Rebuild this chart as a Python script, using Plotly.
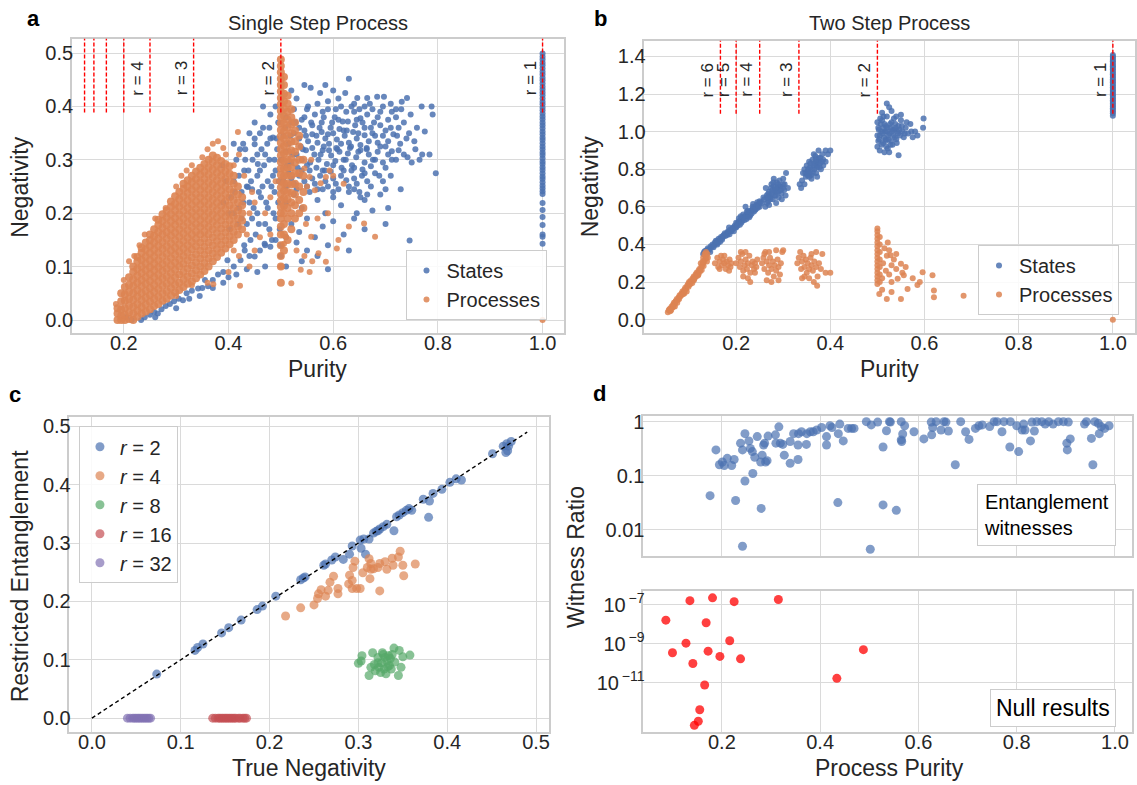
import plotly.graph_objects as go

W, H = 1137, 785
BLUE = "#4C72B0"; ORANGE = "#DD8452"; GREEN = "#55A868"; RED = "#C44E52"; PURPLE = "#8172B3"
TXT = "#262626"; GRID = "#dadada"; FRAME = "#cccccc"
FONT = "Liberation Sans, Arial, sans-serif"
TICK_SIZE = 20
TITLE_SIZE = 23

# ------------------------------------------------------------------ panel a data
A_STATE_EDGE = [(0.205,0.005),(0.215,0.0),(0.233,0.0),(0.24,0.005),(0.25,0.01),(0.258,0.015),(0.265,0.012),
    (0.272,0.02),(0.28,0.026),(0.288,0.03),(0.296,0.035),(0.305,0.04),(0.313,0.037),(0.32,0.05),(0.33,0.055),
    (0.342,0.059),(0.35,0.06),(0.361,0.063),(0.37,0.075),(0.38,0.085),(0.39,0.09),(0.398,0.112),(0.41,0.1),
    (0.423,0.112),(0.431,0.13),(0.44,0.12),(0.45,0.119),(0.46,0.13),(0.469,0.143),(0.48,0.137),(0.49,0.15),
    (0.5,0.14),(0.51,0.155),(0.47,0.1),(0.455,0.09),(0.435,0.095),(0.415,0.085),(0.39,0.07),(0.37,0.06),
    (0.345,0.045),(0.3,0.022),(0.26,0.005),(0.325,0.04),(0.355,0.075),(0.4,0.08)]
A_STATE_MID = [(0.4,0.2),(0.405,0.23),(0.41,0.26),(0.415,0.3),(0.42,0.21),(0.425,0.24),(0.43,0.28),(0.432,0.32),
    (0.435,0.18),(0.44,0.22),(0.443,0.26),(0.446,0.3),(0.45,0.34),(0.452,0.16),(0.455,0.2),(0.458,0.24),
    (0.46,0.28),(0.463,0.32),(0.466,0.36),(0.47,0.18),(0.472,0.22),(0.475,0.26),(0.478,0.3),(0.48,0.34),
    (0.483,0.15),(0.486,0.2),(0.488,0.24),(0.49,0.28),(0.493,0.32),(0.495,0.37),(0.498,0.17),(0.445,0.245),
    (0.465,0.25),(0.475,0.21),(0.485,0.27),(0.455,0.27),(0.435,0.25),(0.42,0.27),(0.41,0.2),(0.49,0.4),
    (0.48,0.385),(0.466,0.4),(0.485,0.342),(0.45,0.329),(0.456,0.292),(0.437,0.249),(0.428,0.33),(0.44,0.35),
    (0.39,0.22),(0.395,0.26),(0.388,0.29),(0.47,0.31),(0.46,0.35),(0.445,0.19),(0.425,0.19),(0.495,0.22),
    (0.402,0.17),(0.412,0.24),(0.418,0.18),(0.428,0.22),(0.438,0.28),(0.448,0.21),(0.458,0.18),(0.462,0.23),
    (0.468,0.29),(0.474,0.33),(0.482,0.25),(0.49,0.19),(0.496,0.26),(0.492,0.34),(0.478,0.17),(0.442,0.15),
    (0.43,0.14),(0.47,0.14),(0.455,0.31),(0.432,0.3),(0.422,0.32),(0.41,0.33),(0.45,0.37),(0.478,0.36),
    (0.488,0.3)]
A_STATE_CLOUD = [(0.545,0.44),(0.557,0.435),(0.585,0.44),(0.63,0.452),(0.623,0.425),(0.646,0.416),(0.665,0.416),
    (0.684,0.418),(0.697,0.418),(0.731,0.409),(0.741,0.416),(0.769,0.4),(0.788,0.4),(0.79,0.385),(0.6,0.43),
    (0.61,0.415),(0.575,0.425),(0.52,0.43),(0.53,0.415),(0.66,0.4),(0.67,0.405),(0.71,0.405),(0.72,0.395),
    (0.59,0.41),(0.64,0.405),
    (0.51,0.38),(0.525,0.395),(0.54,0.375),(0.552,0.4),(0.565,0.385),(0.578,0.37),(0.59,0.395),(0.603,0.38),
    (0.615,0.4),(0.628,0.372),(0.64,0.39),(0.652,0.378),(0.665,0.385),(0.678,0.37),(0.69,0.39),(0.705,0.375),
    (0.72,0.38),(0.735,0.37),(0.748,0.385),(0.535,0.36),(0.56,0.365),(0.595,0.36),(0.62,0.355),(0.66,0.36),
    (0.7,0.355),(0.775,0.353),(0.784,0.31),(0.796,0.275),(0.729,0.245),(0.712,0.316),(0.746,0.149),
    (0.505,0.345),(0.515,0.33),(0.525,0.35),(0.535,0.34),(0.545,0.355),(0.552,0.335),(0.56,0.348),(0.57,0.332),
    (0.578,0.352),(0.585,0.34),(0.592,0.33),(0.6,0.35),(0.607,0.338),(0.615,0.33),(0.622,0.345),(0.63,0.332),
    (0.638,0.352),(0.645,0.34),(0.652,0.328),(0.66,0.346),(0.668,0.335),(0.675,0.35),(0.685,0.332),(0.695,0.345),
    (0.705,0.335),(0.715,0.348),(0.728,0.33),(0.74,0.34),(0.755,0.335),(0.77,0.31),
    (0.5,0.3),(0.51,0.315),(0.52,0.295),(0.53,0.31),(0.54,0.3),(0.548,0.318),(0.556,0.295),(0.564,0.31),
    (0.572,0.3),(0.58,0.318),(0.588,0.292),(0.596,0.308),(0.604,0.298),(0.612,0.315),(0.62,0.3),(0.628,0.312),
    (0.636,0.29),(0.644,0.305),(0.652,0.318),(0.66,0.295),(0.668,0.31),(0.676,0.3),(0.685,0.315),(0.695,0.295),
    (0.705,0.31),(0.72,0.3),(0.735,0.31),(0.75,0.295),
    (0.505,0.26),(0.515,0.275),(0.525,0.255),(0.535,0.27),(0.545,0.26),(0.555,0.28),(0.565,0.255),(0.575,0.27),
    (0.585,0.26),(0.595,0.278),(0.605,0.255),(0.615,0.27),(0.625,0.262),(0.635,0.28),(0.645,0.255),(0.655,0.27),
    (0.665,0.26),(0.68,0.275),(0.695,0.26),(0.71,0.27),(0.6,0.24),(0.64,0.245),
    (0.51,0.22),(0.525,0.235),(0.54,0.21),(0.555,0.24),(0.57,0.225),(0.585,0.2),(0.6,0.23),(0.615,0.215),
    (0.63,0.24),(0.645,0.2),(0.66,0.225),(0.675,0.205),(0.69,0.235),(0.705,0.21),(0.665,0.235),(0.652,0.23),
    (0.58,0.245),
    (0.52,0.18),(0.535,0.165),(0.55,0.19),(0.565,0.155),(0.58,0.175),(0.6,0.185),(0.62,0.16),(0.64,0.19),
    (0.66,0.17),(0.59,0.14),(0.57,0.12),(0.55,0.13),(0.53,0.145),(0.5,0.12),(0.51,0.1),(0.59,0.095),(0.7,0.18),
    (0.54,0.11),(0.63,0.13)]
A_STATE_CORE = [(0.508,0.36),(0.518,0.345),(0.528,0.37),(0.538,0.325),(0.548,0.345),(0.558,0.37),(0.568,0.345),
    (0.574,0.36),(0.582,0.325),(0.59,0.348),(0.598,0.37),(0.606,0.322),(0.612,0.358),(0.618,0.372),(0.626,0.355),
    (0.634,0.325),(0.642,0.365),(0.648,0.35),(0.656,0.37),(0.664,0.322),(0.672,0.36),(0.68,0.345),(0.69,0.365),
    (0.7,0.325),(0.71,0.36),(0.722,0.345),
    (0.512,0.29),(0.522,0.31),(0.532,0.285),(0.542,0.32),(0.55,0.29),(0.56,0.322),(0.568,0.285),(0.576,0.31),
    (0.584,0.28),(0.592,0.318),(0.6,0.29),(0.608,0.32),(0.616,0.285),(0.624,0.3),(0.632,0.322),(0.64,0.285),
    (0.648,0.315),(0.656,0.282),(0.664,0.32),(0.672,0.288),(0.68,0.3),(0.69,0.325),(0.7,0.285),(0.712,0.3),
    (0.725,0.318),(0.742,0.305),
    (0.51,0.25),(0.52,0.265),(0.53,0.245),(0.54,0.28),(0.55,0.25),(0.56,0.265),(0.57,0.245),(0.58,0.28),
    (0.59,0.25),(0.6,0.265),(0.61,0.245),(0.62,0.28),(0.63,0.25),(0.64,0.265),(0.65,0.24),(0.66,0.275),
    (0.672,0.25),(0.688,0.27),(0.7,0.245),
    (0.55,0.395),(0.57,0.405),(0.58,0.39),(0.605,0.395),(0.625,0.39),(0.635,0.4),(0.65,0.395),(0.675,0.395),
    (0.695,0.4),(0.545,0.38),(0.52,0.37),(0.582,0.38),(0.61,0.375),(0.645,0.375),(0.685,0.38),(0.712,0.39),
    (0.73,0.395),(0.76,0.36),(0.725,0.36),(0.745,0.35),(0.757,0.32),(0.765,0.3)]
A_STATE_PURE_Y = [0.143,0.156,0.160,0.178,0.193,0.206,0.219,0.236,0.241,0.247,0.252,0.258,0.264,0.269,0.275,
    0.281,0.286,0.292,0.297,0.303,0.309,0.314,0.320,0.325,0.331,0.337,0.342,0.348,0.353,0.359,0.365,0.370,
    0.376,0.381,0.387,0.393,0.398,0.404,0.409,0.415,0.421,0.426,0.432,0.437,0.443,0.449,0.454,0.460,0.465,
    0.471,0.477,0.482,0.488,0.493,0.499]

A_PROC_BAND = {
    0.188: [0.0,0.012,0.022],
    0.195: [0.0,0.008,0.02,0.035,0.05],
    0.202: [0.0,0.01,0.022,0.036,0.048,0.062],
    0.21: [0.002,0.014,0.027,0.04,0.053,0.066,0.08],
    0.218: [0.0,0.012,0.025,0.038,0.05,0.063,0.076,0.09,0.1],
    0.226: [0.006,0.018,0.03,0.044,0.056,0.07,0.083,0.096,0.11,0.118],
    0.234: [0.012,0.024,0.037,0.05,0.063,0.075,0.088,0.1,0.113,0.126,0.135],
    0.242: [0.016,0.029,0.042,0.055,0.068,0.08,0.093,0.106,0.119,0.132,0.145],
    0.25: [0.02,0.034,0.047,0.06,0.073,0.086,0.099,0.112,0.125,0.138,0.15,0.16],
    0.258: [0.026,0.04,0.053,0.066,0.08,0.093,0.106,0.119,0.132,0.145,0.158,0.17],
    0.266: [0.03,0.044,0.058,0.072,0.085,0.099,0.112,0.126,0.139,0.152,0.165,0.178,0.188],
    0.274: [0.036,0.05,0.064,0.078,0.092,0.105,0.119,0.133,0.146,0.16,0.173,0.186,0.198],
    0.282: [0.04,0.054,0.068,0.082,0.096,0.11,0.124,0.138,0.152,0.165,0.178,0.192,0.205],
    0.29: [0.046,0.06,0.074,0.088,0.102,0.116,0.13,0.144,0.158,0.171,0.185,0.198,0.212,0.222],
    0.298: [0.052,0.066,0.08,0.094,0.108,0.122,0.136,0.15,0.164,0.178,0.191,0.205,0.218,0.232],
    0.306: [0.056,0.07,0.085,0.1,0.114,0.128,0.142,0.156,0.17,0.184,0.198,0.212,0.226,0.24],
    0.314: [0.062,0.076,0.09,0.105,0.12,0.134,0.148,0.162,0.176,0.19,0.204,0.218,0.232,0.246,0.255],
    0.322: [0.068,0.082,0.097,0.112,0.126,0.14,0.154,0.168,0.182,0.196,0.21,0.224,0.238,0.25,0.262],
    0.33: [0.072,0.087,0.102,0.117,0.132,0.146,0.16,0.174,0.188,0.202,0.216,0.23,0.244,0.258,0.27],
    0.338: [0.078,0.093,0.108,0.123,0.138,0.152,0.166,0.18,0.194,0.208,0.222,0.236,0.25,0.264,0.278],
    0.346: [0.085,0.1,0.115,0.13,0.145,0.16,0.174,0.188,0.202,0.216,0.23,0.244,0.258,0.272,0.285],
    0.354: [0.092,0.107,0.122,0.137,0.152,0.166,0.18,0.194,0.208,0.222,0.236,0.25,0.264,0.278,0.292],
    0.362: [0.1,0.115,0.13,0.145,0.16,0.174,0.188,0.202,0.216,0.23,0.244,0.258,0.272,0.286,0.3],
    0.37: [0.11,0.125,0.14,0.155,0.17,0.184,0.198,0.212,0.226,0.24,0.254,0.268,0.282,0.296,0.308],
    0.378: [0.118,0.133,0.148,0.163,0.178,0.192,0.206,0.22,0.234,0.248,0.262,0.276,0.29,0.304],
    0.386: [0.126,0.141,0.156,0.171,0.186,0.2,0.214,0.228,0.242,0.256,0.27,0.284,0.298],
    0.394: [0.134,0.149,0.164,0.179,0.194,0.208,0.222,0.236,0.25,0.264,0.278,0.292],
    0.402: [0.142,0.157,0.172,0.187,0.2,0.215,0.23,0.245,0.26,0.274,0.288],
    0.41: [0.15,0.165,0.18,0.195,0.21,0.225,0.24,0.255,0.27],
    0.418: [0.16,0.175,0.19,0.205,0.22,0.235,0.25],
    0.426: [0.17,0.186,0.2,0.215,0.23],
}
A_PROC_SCATTER = [(0.21,0.11),(0.23,0.14),(0.24,0.16),(0.26,0.19),(0.28,0.21),(0.3,0.25),(0.31,0.27),(0.33,0.29),
    (0.35,0.305),(0.36,0.32),(0.37,0.33),(0.38,0.335),(0.39,0.322),(0.395,0.31),(0.41,0.29),(0.42,0.31),
    (0.418,0.352),(0.32,0.28),(0.185,0.03),(0.2,0.075),(0.22,0.12),
    (0.36,0.07),(0.371,0.067),(0.4,0.09),(0.422,0.064),(0.42,0.12),(0.44,0.1),(0.45,0.13),(0.46,0.155),
    (0.48,0.16),(0.47,0.2),(0.44,0.2),(0.45,0.22),(0.48,0.23),(0.49,0.26),(0.33,0.065),(0.3,0.045),
    (0.435,0.16),(0.445,0.24),(0.43,0.27),(0.41,0.13),
    (0.52,0.069),(0.538,0.094),(0.555,0.09),(0.572,0.125),(0.586,0.109),(0.607,0.134),(0.659,0.181),
    (0.68,0.156),(0.558,0.156),(0.548,0.18),(0.59,0.2),(0.565,0.243),(0.586,0.268),(0.576,0.256),(0.593,0.28),
    (0.555,0.268),(0.545,0.284),(0.558,0.3),(0.5,0.1),(0.506,0.143),(0.51,0.156),(0.6,0.27),(0.62,0.255),
    (0.61,0.15),(0.63,0.175),(0.545,0.12),(0.56,0.11),(0.57,0.19),(0.55,0.25),(0.53,0.13)]
A_PROC_SPIKE = {
    0.5: [0.07,0.1,0.12,0.14,0.16,0.175,0.19,0.2,0.212,0.224,0.236,0.248,0.26,0.272,0.284,0.296,0.308,0.32,
          0.332,0.344,0.356,0.368,0.38,0.392,0.404,0.416,0.428,0.44,0.452,0.464,0.476,0.488],
    0.506: [0.13,0.16,0.18,0.2,0.214,0.228,0.242,0.256,0.27,0.284,0.298,0.312,0.326,0.34,0.354,0.368,0.382,
            0.396,0.41,0.424,0.44,0.455],
    0.513: [0.15,0.19,0.21,0.226,0.24,0.255,0.27,0.285,0.3,0.315,0.33,0.345,0.36,0.375,0.39,0.405,0.42],
    0.52: [0.17,0.2,0.22,0.238,0.254,0.27,0.286,0.302,0.318,0.334,0.35,0.366,0.38,0.395],
    0.527: [0.19,0.215,0.235,0.255,0.275,0.295,0.315,0.335,0.355,0.37],
    0.535: [0.2,0.225,0.25,0.275,0.3,0.325,0.345],
    0.543: [0.21,0.24,0.27,0.3],
}
A_PROC_PURE = [(1.0, 0.0)]
A_RANKS = [8, 7, 6, 5, 4, 3, 2, 1]
A_RANK_LABELS = [4, 3, 2, 1]

# ------------------------------------------------------------------ panel b data
B_STATE_CHAIN = [(0.13,0.35),(0.134,0.365),(0.137,0.37),(0.14,0.38),(0.143,0.375),(0.146,0.39),(0.15,0.4),
    (0.152,0.385),(0.155,0.41),(0.158,0.405),(0.16,0.42),(0.163,0.43),(0.166,0.415),(0.168,0.44),(0.171,0.435),
    (0.174,0.45),(0.177,0.445),(0.18,0.46),(0.183,0.47),(0.186,0.455),(0.188,0.48),(0.191,0.475),(0.194,0.49),
    (0.197,0.5),(0.2,0.49),(0.202,0.51),(0.205,0.52),(0.208,0.505),(0.21,0.53),(0.213,0.525),(0.216,0.54),
    (0.219,0.55),(0.222,0.535),(0.224,0.56),(0.227,0.57),(0.23,0.555),(0.232,0.58),(0.235,0.59),(0.238,0.575),
    (0.24,0.6),(0.243,0.61),(0.246,0.595),(0.248,0.615),(0.25,0.6),(0.17,0.425),(0.2,0.515),(0.215,0.56),
    (0.235,0.6),(0.225,0.58),(0.185,0.49),(0.16,0.4),(0.145,0.36),(0.245,0.625),(0.22,0.6),(0.21,0.55),
    (0.195,0.47),(0.206,0.54),(0.228,0.545),(0.241,0.585),(0.252,0.625),
    (0.132,0.36),(0.138,0.36),(0.142,0.37),(0.148,0.385),(0.153,0.395),(0.157,0.42),(0.162,0.41),(0.167,0.43),
    (0.172,0.445),(0.176,0.46),(0.181,0.45),(0.184,0.465),(0.189,0.47),(0.193,0.485),(0.198,0.49),(0.203,0.5),
    (0.207,0.525),(0.211,0.515),(0.214,0.545),(0.218,0.53),(0.221,0.555),(0.226,0.55),(0.229,0.575),
    (0.233,0.565),(0.237,0.585),(0.242,0.59),(0.247,0.605),(0.25,0.63),(0.223,0.575),(0.236,0.615)]
B_STATE_C2 = [(0.255,0.62),(0.26,0.64),(0.262,0.6),(0.265,0.66),(0.268,0.63),(0.27,0.68),(0.272,0.65),
    (0.274,0.7),(0.276,0.67),(0.278,0.64),(0.28,0.71),(0.282,0.69),(0.284,0.66),(0.286,0.73),(0.288,0.7),
    (0.29,0.68),(0.292,0.74),(0.294,0.71),(0.296,0.67),(0.3,0.72),(0.302,0.69),(0.305,0.66),(0.31,0.7),
    (0.3,0.75),(0.285,0.62),(0.27,0.61),(0.297,0.64),(0.28,0.75),(0.263,0.7),(0.275,0.72),(0.29,0.65),
    (0.268,0.67),(0.283,0.68),(0.306,0.78),
    (0.258,0.65),(0.266,0.62),(0.271,0.66),(0.277,0.69),(0.281,0.66),(0.287,0.68),(0.291,0.71),(0.295,0.69),
    (0.299,0.7),(0.303,0.72),(0.273,0.64),(0.279,0.73),(0.289,0.72),(0.284,0.7),(0.267,0.65)]
B_STATE_C3 = [(0.335,0.72),(0.34,0.74),(0.342,0.78),(0.345,0.8),(0.348,0.76),(0.35,0.82),(0.352,0.79),
    (0.355,0.84),(0.357,0.81),(0.36,0.77),(0.362,0.85),(0.364,0.82),(0.366,0.8),(0.368,0.87),(0.37,0.84),
    (0.372,0.81),(0.375,0.86),(0.378,0.83),(0.38,0.8),(0.383,0.88),(0.385,0.85),(0.39,0.9),(0.395,0.88),
    (0.4,0.9),(0.338,0.7),(0.345,0.72),(0.36,0.75),(0.37,0.78),(0.355,0.76),(0.365,0.88),(0.375,0.9),
    (0.385,0.82),(0.39,0.84),(0.372,0.76),
    (0.347,0.78),(0.353,0.8),(0.358,0.83),(0.361,0.8),(0.367,0.83),(0.371,0.82),(0.374,0.84),(0.379,0.86),
    (0.363,0.78),(0.356,0.78),(0.369,0.85),(0.382,0.84),(0.351,0.77),(0.377,0.81)]
B_STATE_C4 = [(0.5,0.92),(0.502,0.95),(0.505,0.98),(0.503,1.01),(0.507,1.04),(0.51,1.06),(0.512,0.94),
    (0.514,0.97),(0.516,1.0),(0.518,1.03),(0.52,1.08),(0.522,0.91),(0.524,0.96),(0.526,0.99),(0.528,1.02),
    (0.53,1.05),(0.532,0.93),(0.534,0.98),(0.536,1.01),(0.538,1.04),(0.54,0.96),(0.542,1.0),(0.545,1.03),
    (0.548,0.98),(0.55,1.06),(0.553,1.0),(0.556,0.97),(0.56,1.02),(0.565,0.99),(0.57,1.04),(0.575,0.97),
    (0.58,1.0),(0.597,1.02),(0.598,1.07),(0.52,1.15),(0.525,1.13),(0.53,1.11),(0.51,1.1),(0.515,0.89),
    (0.525,0.89),(0.545,0.875),(0.505,0.9),(0.55,1.09),(0.54,1.08),(0.535,1.07),(0.508,1.0),(0.52,1.0),
    (0.5,1.05),(0.5,0.98),(0.513,1.02),(0.531,1.0),(0.518,0.96),
    (0.504,0.96),(0.509,0.93),(0.511,0.99),(0.515,1.04),(0.517,0.95),(0.521,1.02),(0.523,0.98),(0.527,1.04),
    (0.529,0.95),(0.533,1.01),(0.537,0.97),(0.539,1.02),(0.544,0.99),(0.547,1.01),(0.552,1.03),(0.506,1.07),
    (0.513,1.08),(0.519,0.92),(0.528,0.93),(0.541,0.94),(0.558,0.99),(0.562,1.05),(0.572,1.0),(0.585,0.98),
    (0.502,1.02)]
B_STATE_PURE_Y = [1.085,1.098,1.107,1.116,1.124,1.133,1.141,1.15,1.159,1.167,1.176,1.184,1.193,1.202,1.21,
    1.219,1.227,1.236,1.245,1.253,1.262,1.27,1.279,1.288,1.296,1.305,1.313,1.322,1.331,1.339,1.348,1.356,
    1.365,1.374,1.382,1.391,1.399,1.408]
B_PROC_CHAIN = [(0.055,0.04),(0.057,0.05),(0.06,0.045),(0.06,0.06),(0.063,0.07),(0.065,0.065),(0.066,0.08),
    (0.068,0.09),(0.07,0.085),(0.072,0.1),(0.074,0.11),(0.076,0.105),(0.078,0.12),(0.08,0.13),(0.082,0.125),
    (0.084,0.14),(0.086,0.15),(0.088,0.145),(0.09,0.16),(0.092,0.17),(0.094,0.165),(0.096,0.18),(0.098,0.19),
    (0.1,0.185),(0.102,0.2),(0.104,0.21),(0.106,0.205),(0.108,0.22),(0.11,0.23),(0.112,0.225),(0.114,0.24),
    (0.116,0.25),(0.118,0.245),(0.12,0.26),(0.122,0.27),(0.124,0.265),(0.126,0.28),(0.128,0.29),(0.13,0.3),
    (0.132,0.31),(0.134,0.32),(0.135,0.34),(0.136,0.36),(0.13,0.33),(0.125,0.3),(0.133,0.35),(0.138,0.31),
    (0.14,0.33),(0.11,0.21),(0.09,0.14),(0.07,0.07),(0.1,0.2),(0.12,0.24),
    (0.058,0.055),(0.062,0.05),(0.067,0.07),(0.071,0.095),(0.075,0.09),(0.079,0.11),(0.083,0.13),(0.087,0.135),
    (0.091,0.155),(0.095,0.15),(0.099,0.175),(0.103,0.19),(0.107,0.195),(0.111,0.215),(0.115,0.23),
    (0.119,0.235),(0.123,0.255),(0.127,0.265),(0.131,0.285),(0.137,0.33),(0.139,0.35),(0.129,0.31)]
B_PROC_CLUSTERS = [(0.155,0.3),(0.16,0.33),(0.162,0.28),(0.165,0.31),(0.168,0.34),(0.17,0.29),(0.172,0.32),
    (0.175,0.3),(0.178,0.27),(0.18,0.31),(0.183,0.29),(0.186,0.32),(0.188,0.28),(0.19,0.3),(0.165,0.27),
    (0.175,0.34),(0.185,0.26),
    (0.2,0.3),(0.205,0.33),(0.208,0.28),(0.21,0.31),(0.213,0.35),(0.215,0.26),(0.218,0.29),(0.22,0.32),
    (0.223,0.27),(0.225,0.3),(0.228,0.34),(0.23,0.25),(0.233,0.29),(0.235,0.31),(0.238,0.27),(0.24,0.3),
    (0.243,0.28),(0.245,0.32),(0.225,0.22),(0.23,0.2),(0.215,0.23),(0.24,0.25),(0.21,0.36),(0.22,0.36),
    (0.255,0.3),(0.258,0.33),(0.26,0.27),(0.262,0.36),(0.265,0.31),(0.268,0.25),(0.27,0.29),(0.272,0.33),
    (0.275,0.27),(0.278,0.31),(0.28,0.23),(0.282,0.29),(0.285,0.26),(0.288,0.32),(0.29,0.28),(0.293,0.24),
    (0.295,0.3),(0.298,0.36),(0.3,0.37),(0.265,0.21),(0.275,0.2),(0.29,0.21),(0.285,0.37),(0.26,0.35),(0.27,0.36),
    (0.33,0.3),(0.333,0.33),(0.336,0.36),(0.338,0.27),(0.34,0.31),(0.343,0.34),(0.345,0.28),(0.348,0.32),
    (0.35,0.25),(0.352,0.3),(0.355,0.27),(0.358,0.33),(0.36,0.29),(0.363,0.26),(0.366,0.31),(0.37,0.28),
    (0.373,0.23),(0.376,0.3),(0.38,0.27),(0.383,0.35),(0.37,0.36),(0.39,0.25),(0.4,0.25),(0.34,0.22),
    (0.355,0.22),(0.365,0.2),(0.372,0.18),(0.345,0.23),(0.36,0.35)]
B_PROC_SPIKE = {
    0.5: [0.19,0.21,0.23,0.25,0.27,0.29,0.31,0.33,0.35,0.37,0.39,0.41,0.43,0.45,0.47,0.485],
    0.505: [0.2,0.24,0.28,0.32,0.36,0.4,0.44],
}
B_PROC_SCATTER = [(0.51,0.22),(0.512,0.3),(0.515,0.38),(0.518,0.26),(0.52,0.34),(0.522,0.41),(0.525,0.24),
    (0.528,0.343),(0.53,0.29),(0.53,0.2),(0.535,0.32),(0.54,0.27),(0.543,0.218),(0.55,0.298),(0.553,0.25),
    (0.556,0.237),(0.56,0.28),(0.564,0.164),(0.585,0.185),(0.596,0.253),(0.617,0.237),(0.62,0.156),(0.62,0.12),
    (0.683,0.127),(0.504,0.137),(0.52,0.11),(0.53,0.148),(0.55,0.11),(0.51,0.16),(0.575,0.22),(0.59,0.2),
    (0.54,0.35),(0.525,0.37)]
B_PROC_PURE = [(1.0, 0.0)]
B_RANKS = [6, 5, 4, 3, 2, 1]

# ------------------------------------------------------------------ panel c data
C_R2 = [(0.073,0.0755),(0.116,0.116),(0.119,0.121),(0.125,0.127),(0.146,0.146),(0.154,0.155),(0.168,0.168),
    (0.186,0.186),(0.192,0.192),(0.207,0.209),(0.235,0.237),(0.238,0.24),(0.24,0.242),(0.261,0.262),
    (0.263,0.264),(0.27,0.271),(0.274,0.276),(0.283,0.272),(0.29,0.281),(0.293,0.295),(0.302,0.305),
    (0.303,0.291),(0.308,0.281),(0.306,0.307),(0.312,0.307),(0.317,0.317),(0.32,0.32),(0.322,0.321),
    (0.324,0.324),(0.328,0.328),(0.332,0.332),(0.34,0.321),(0.343,0.345),(0.346,0.348),(0.35,0.352),
    (0.354,0.356),(0.36,0.356),(0.357,0.359),(0.373,0.375),(0.38,0.372),(0.379,0.344),(0.384,0.385),
    (0.394,0.392),(0.403,0.404),(0.41,0.41),(0.416,0.408),(0.451,0.453),(0.463,0.466),(0.467,0.47),
    (0.472,0.474),(0.466,0.455),(0.468,0.458),(0.469,0.466)]
C_R4 = [(0.218,0.175),(0.235,0.189),(0.25,0.194),(0.254,0.205),(0.255,0.213),(0.258,0.22),(0.263,0.209),
    (0.266,0.219),(0.268,0.233),(0.272,0.243),(0.277,0.222),(0.277,0.213),(0.289,0.23),(0.29,0.245),
    (0.293,0.236),(0.294,0.258),(0.296,0.269),(0.293,0.222),(0.298,0.222),(0.302,0.222),(0.305,0.249),
    (0.31,0.258),(0.312,0.273),(0.313,0.239),(0.314,0.255),(0.317,0.256),(0.324,0.218),(0.324,0.265),
    (0.33,0.268),(0.332,0.255),(0.338,0.274),(0.339,0.262),(0.345,0.276),(0.347,0.286),(0.35,0.262),
    (0.351,0.244),(0.364,0.264),(0.314,0.265),(0.322,0.258)]
C_R8 = [(0.3,0.094),(0.304,0.107),(0.303,0.098),(0.312,0.073),(0.316,0.112),(0.318,0.092),(0.322,0.104),
    (0.323,0.087),(0.325,0.078),(0.326,0.095),(0.328,0.109),(0.329,0.084),(0.331,0.076),(0.332,0.098),
    (0.334,0.107),(0.335,0.09),(0.336,0.102),(0.338,0.109),(0.34,0.12),(0.341,0.096),(0.345,0.073),
    (0.346,0.116),(0.348,0.087),(0.35,0.105),(0.358,0.108),(0.314,0.087),(0.319,0.081),(0.327,0.112),
    (0.33,0.104),(0.333,0.088),(0.337,0.084),(0.322,0.095)]
C_R16_X = [0.136,0.139,0.142,0.144,0.146,0.148,0.15,0.152,0.154,0.156,0.158,0.16,0.162,0.165,0.167,0.17,0.172,0.174]
C_R32_X = [0.04,0.043,0.046,0.048,0.05,0.052,0.054,0.056,0.058,0.06,0.062,0.064,0.066]
C_DIAG = [0.0, 0.49]

# ------------------------------------------------------------------ panel d data
D_WITNESS = [(0.176,0.043),(0.188,0.3),(0.195,0.16),(0.201,0.18),(0.211,0.21),(0.205,0.155),(0.22,0.155),
    (0.225,0.2),(0.228,0.035),(0.238,0.4),(0.242,0.005),(0.242,0.3),(0.247,0.6),(0.247,0.08),(0.255,0.44),
    (0.258,0.32),(0.263,0.11),(0.262,0.28),(0.267,0.22),(0.272,0.53),(0.28,0.025),(0.279,0.18),(0.282,0.24),
    (0.285,0.37),(0.287,0.4),(0.289,0.18),(0.292,0.19),(0.294,0.54),(0.309,0.57),(0.31,0.4),(0.316,0.8),
    (0.319,0.4),(0.324,0.38),(0.327,0.24),(0.339,0.17),(0.339,0.43),(0.346,0.6),(0.355,0.2),(0.355,0.37),
    (0.356,0.6),(0.362,0.65),(0.372,0.38),(0.373,0.6),(0.38,0.65),(0.386,0.65),(0.393,0.7),(0.403,0.78),
    (0.413,0.37),(0.413,0.53),(0.42,0.84),(0.424,0.78),(0.436,0.032),(0.44,0.9),(0.437,0.6),(0.447,0.44),
    (0.457,0.75),(0.464,0.75),(0.469,0.75),(0.494,1.0),(0.502,0.0044),(0.504,0.87),(0.517,0.98),(0.528,0.34),
    (0.528,0.029),(0.535,0.68),(0.541,1.0),(0.543,0.98),(0.555,0.023),(0.565,1.0),(0.568,0.59),(0.565,0.46),
    (0.566,0.43),(0.572,0.84),(0.591,0.65),(0.611,0.48),(0.626,0.98),(0.629,0.78),(0.627,0.57),(0.636,1.0),
    (0.646,0.7),(0.652,1.0),(0.656,0.98),(0.661,0.67),(0.675,0.16),(0.686,1.0),(0.696,0.65),(0.703,0.47),
    (0.716,0.75),(0.723,0.84),(0.73,0.87),(0.745,0.81),(0.754,1.0),(0.76,1.0),(0.77,0.65),(0.774,1.0),
    (0.786,0.34),(0.787,1.0),(0.8,0.84),(0.804,0.28),(0.811,0.7),(0.814,0.9),(0.817,0.7),(0.828,0.44),
    (0.831,0.98),(0.836,0.67),(0.841,1.0),(0.851,1.0),(0.858,0.9),(0.865,1.0),(0.874,0.9),(0.885,1.0),
    (0.895,1.0),(0.902,0.4),(0.903,0.3),(0.909,0.48),(0.905,0.98),(0.938,0.9),(0.942,1.0),(0.952,0.49),
    (0.955,0.16),(0.959,1.0),(0.966,0.93),(0.968,0.6),(0.972,0.81),(0.979,0.75),(0.988,0.84)]
D_NULL = [(0.086,1.58e-8),(0.0995,3.4e-10),(0.127,1.05e-9),(0.135,1.58e-7),(0.141,9.5e-11),(0.144,6.5e-14),
    (0.152,1.05e-13),(0.155,4.1e-13),(0.165,7.6e-12),(0.168,1.17e-8),(0.172,4.1e-10),(0.181,2.2e-7),
    (0.196,2.2e-10),(0.216,1.4e-9),(0.225,1.4e-7),(0.238,1.66e-10),(0.315,1.8e-7),(0.434,1.66e-11),
    (0.488,4.9e-10)]

# ------------------------------------------------------------------ helpers
def split(pairs):
    return [p[0] for p in pairs], [p[1] for p in pairs]

def columns(cols):
    xs, ys = [], []
    for x, col in cols.items():
        xs += [x] * len(col)
        ys += col
    return xs, ys

def gather(parts):
    xs, ys = [], []
    for part in parts:
        x, y = columns(part) if isinstance(part, dict) else split(part)
        xs += x; ys += y
    return xs, ys

def dots(x, y, color, size, xa, ya, name=None, legend=None, opacity=0.85):
    return go.Scatter(x=x, y=y, mode="markers", name=name, legend=legend, showlegend=name is not None,
                      marker=dict(color=color, size=size, opacity=opacity, line=dict(width=0)),
                      xaxis=xa, yaxis=ya)

fig = go.Figure()

# panel a
x, y = gather([A_STATE_EDGE, A_STATE_MID, A_STATE_CLOUD, A_STATE_CORE])
x += [1.0] * len(A_STATE_PURE_Y); y += A_STATE_PURE_Y
fig.add_trace(dots(x, y, BLUE, 6, "x", "y", "States", "legend"))
x, y = gather([A_PROC_SCATTER, A_PROC_PURE])
fig.add_trace(dots(x, y, ORANGE, 6, "x", "y", "Processes", "legend"))
x, y = gather([A_PROC_BAND, A_PROC_SPIKE])
fig.add_trace(dots(x, y, ORANGE, 8, "x", "y", opacity=0.9))

# panel b
x, y = gather([B_STATE_CHAIN, B_STATE_C2, B_STATE_C3, B_STATE_C4])
x += [1.0] * len(B_STATE_PURE_Y); y += B_STATE_PURE_Y
fig.add_trace(dots(x, y, BLUE, 6, "x2", "y2", "States", "legend2"))
x, y = gather([B_PROC_CHAIN, B_PROC_CLUSTERS, B_PROC_SCATTER, B_PROC_PURE, B_PROC_SPIKE])
fig.add_trace(dots(x, y, ORANGE, 6, "x2", "y2", "Processes", "legend2"))

# panel c
c_sets = [("<i>r</i> = 2", C_R2, BLUE), ("<i>r</i> = 4", C_R4, ORANGE), ("<i>r</i> = 8", C_R8, GREEN),
          ("<i>r</i> = 16", [(v, 0.0) for v in C_R16_X], RED), ("<i>r</i> = 32", [(v, 0.0) for v in C_R32_X], PURPLE)]
for name, pts, col in c_sets:
    x, y = split(pts)
    fig.add_trace(dots(x, y, col, 9, "x3", "y3", name, "legend3", opacity=0.7))
fig.add_trace(go.Scatter(x=C_DIAG, y=C_DIAG, mode="lines", showlegend=False,
    line=dict(color="black", width=1.4, dash="4px,3px"), xaxis="x3", yaxis="y3"))

# panel d
x, y = split(D_WITNESS)
fig.add_trace(dots(x, y, BLUE, 9, "x4", "y4", opacity=0.7))
x, y = split(D_NULL)
fig.add_trace(dots(x, y, "red", 9, "x5", "y5", opacity=0.75))

# ------------------------------------------------------------------ layout
def axis(dom, rng, letter, **kw):
    d = dict(domain=dom, range=rng, showgrid=True, gridcolor=GRID, gridwidth=1.3, showline=True,
             linecolor=FRAME, linewidth=1.5, mirror=True, zeroline=False, ticks="", ticklen=0,
             ticklabelstandoff=-9 if letter == "x" else -7,
             tickfont=dict(size=TICK_SIZE, color=TXT, family=FONT))
    d.update(kw)
    return d

def ydom(top, bottom):
    return [1 - bottom / H, 1 - top / H]

def xdom(left, right):
    return [left / W, right / W]

LEG = dict(bordercolor=FRAME, borderwidth=1, bgcolor="rgba(255,255,255,0.85)",
           font=dict(size=20, color=TXT, family=FONT))
layout = dict(
    width=W, height=H, margin=dict(l=0, r=0, t=0, b=0), autosize=False,
    paper_bgcolor="white", plot_bgcolor="white", font=dict(family=FONT, color=TXT),
    xaxis=axis(xdom(72, 564), [0.1009, 1.040], "x", anchor="y", tickvals=[0.2, 0.4, 0.6, 0.8, 1.0], tickformat=".1f"),
    yaxis=axis(ydom(34, 330.4), [-0.0249, 0.5268], "y", anchor="x", tickvals=[0, 0.1, 0.2, 0.3, 0.4, 0.5], tickformat=".1f"),
    xaxis2=axis(xdom(645, 1136), [0.0053, 1.047], "x", anchor="y2", tickvals=[0.2, 0.4, 0.6, 0.8, 1.0], tickformat=".1f"),
    yaxis2=axis(ydom(36, 330), [-0.070, 1.483], "y", anchor="x2", tickvals=[0, 0.2, 0.4, 0.6, 0.8, 1.0, 1.2, 1.4], tickformat=".1f"),
    xaxis3=axis(xdom(69.5, 549), [-0.0253, 0.514], "x", anchor="y3", tickvals=[0, 0.1, 0.2, 0.3, 0.4, 0.5], tickformat=".1f"),
    yaxis3=axis(ydom(415, 731.7), [-0.0238, 0.5153], "y", anchor="x3", tickvals=[0, 0.1, 0.2, 0.3, 0.4, 0.5], tickformat=".1f"),
    xaxis4=axis(xdom(643.8, 1132.7), [0.04, 1.034], "x", anchor="y4", tickvals=[0.2, 0.4, 0.6, 0.8, 1.0], showticklabels=False),
    yaxis4=axis(ydom(413.3, 555), [-2.49, 0.11], "y", anchor="x4", type="log", tickvals=[0.01, 0.1, 1], ticktext=["0.01", "0.1", "1"]),
    xaxis5=axis(xdom(643.8, 1132.7), [0.04, 1.034], "x", anchor="y5", tickvals=[0.2, 0.4, 0.6, 0.8, 1.0], tickformat=".1f"),
    yaxis5=axis(ydom(590, 731.7), [-13.53, -6.32], "y", anchor="x5", type="log", tickvals=[1e-7, 1e-9, 1e-11],
                ticktext=["10<sup>\u2009\u22127</sup>", "10<sup>\u2009\u22129</sup>", "10<sup>\u2009\u221211</sup>"]),
    legend=dict(x=547 / W, xanchor="right", y=1 - 317 / H, yanchor="bottom", **LEG),
    legend2=dict(x=1120 / W, xanchor="right", y=1 - 312 / H, yanchor="bottom", **LEG),
    legend3=dict(x=79 / W, xanchor="left", y=1 - 424 / H, yanchor="top", **LEG),
)
fig.update_layout(**layout)

shapes = []
annotations = []
for xr, yr, ranks, labels in (("x", "y domain", A_RANKS, A_RANK_LABELS), ("x2", "y2 domain", B_RANKS, B_RANKS)):
    for r in ranks:
        shapes.append(dict(type="line", xref=xr, yref=yr, x0=1 / r, x1=1 / r, y0=0.75, y1=1,
                           line=dict(color="red", width=1.4, dash="4px,2px")))
    for r in labels:
        annotations.append(dict(text=f"r = {r}", xref=xr, yref=yr, x=1 / r, y=0.8, xanchor="right",
                                yanchor="bottom", textangle=-90, showarrow=False, xshift=-1,
                                font=dict(size=17, color=TXT, family=FONT)))

def ann(text, x, y, size, **kw):
    d = dict(text=text, x=x / W, y=1 - y / H, xref="paper", yref="paper", showarrow=False,
             xanchor="center", yanchor="middle", font=dict(size=size, color=TXT, family=FONT))
    d.update(kw)
    return d

BOLD = dict(size=22, color="black", family=FONT)
annotations += [
    ann("Single Step Process", 318, 18, 20),
    ann("Two Step Process", 890, 18, 20),
    ann("<b>a</b>", 34, 14, 22, font=BOLD),
    ann("<b>b</b>", 601, 14, 22, font=BOLD),
    ann("<b>c</b>", 15, 392, 22, font=BOLD),
    ann("<b>d</b>", 600, 391, 22, font=BOLD),
    ann("Purity", 318, 366, TITLE_SIZE),
    ann("Purity", 890, 366, TITLE_SIZE),
    ann("Negativity", 20, 183, TITLE_SIZE, textangle=-90),
    ann("Negativity", 590, 183, TITLE_SIZE, textangle=-90),
    ann("True Negativity", 309, 768, TITLE_SIZE),
    ann("Restricted Entanglement", 20, 575, TITLE_SIZE, textangle=-90),
    ann("Process Purity", 890, 768, TITLE_SIZE),
    ann("Witness Ratio", 577, 555, TITLE_SIZE, textangle=-90),
    ann("Entanglement<br>witnesses", 1117, 544, 20, xanchor="right", yanchor="bottom", align="left",
        bordercolor=FRAME, borderwidth=1, borderpad=6, bgcolor="white",
        font=dict(size=20, color="black", family=FONT)),
    ann("Null results", 1117, 727, 23, xanchor="right", yanchor="bottom", align="left",
        bordercolor=FRAME, borderwidth=1, borderpad=5, bgcolor="white",
        font=dict(size=23, color="black", family=FONT)),
]
fig.update_layout(shapes=shapes, annotations=annotations)

fig.write_html("out.html", config={"displayModeBar": False},
               post_script="document.body.style.margin='0';document.body.style.padding='0';")
